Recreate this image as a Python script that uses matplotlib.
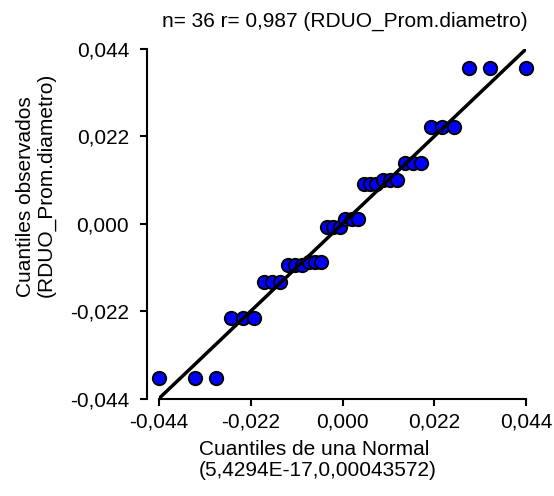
import matplotlib
matplotlib.use('Agg')
import matplotlib.pyplot as plt
from matplotlib.ticker import FuncFormatter

plt.rcParams['font.family'] = ['Liberation Sans', 'DejaVu Sans']

# normal quantiles (x) and sorted observed residuals (y)
normal_q = [-0.0441, -0.0354, -0.0304, -0.0268, -0.0238, -0.0212,
            -0.0189, -0.0168, -0.0149, -0.0131, -0.0114, -0.0097,
            -0.0081, -0.0066, -0.0051, -0.0036, -0.0022, -0.0007,
            0.0007, 0.0022, 0.0036, 0.0051, 0.0066, 0.0081,
            0.0097, 0.0114, 0.0131, 0.0149, 0.0168, 0.0189,
            0.0212, 0.0238, 0.0268, 0.0304, 0.0354, 0.0441]
observed_q = [-0.0388, -0.0388, -0.0388, -0.0238, -0.0238, -0.0238,
              -0.0147, -0.0147, -0.0147, -0.0105, -0.0105, -0.0105,
              -0.0096, -0.0096, -0.0096, -0.0008, -0.0008, -0.0008,
              0.0013, 0.0013, 0.0013, 0.0101, 0.0101, 0.0101,
              0.0111, 0.0111, 0.0111, 0.0152, 0.0152, 0.0152,
              0.0244, 0.0244, 0.0244, 0.0392, 0.0392, 0.0392]
tick_vals = [-0.044, -0.022, 0.0, 0.022, 0.044]

title = "n= 36 r= 0,987 (RDUO_Prom.diametro)"
xlabel = "Cuantiles de una Normal\n(5,4294E-17,0,00043572)"
ylabel = "Cuantiles observados\n(RDUO_Prom.diametro)"

fs = 15

fig = plt.figure(figsize=(5.54, 4.96), dpi=100)
ax = fig.add_axes([159/554, 1 - 398.5/496, 367/554, 349.5/496])

ax.scatter(normal_q, observed_q, s=92, c='#0000ff', edgecolors='black',
           linewidths=1.4, zorder=3, clip_on=False)
ax.axline((0, 0), slope=1, color='black', lw=2.5, zorder=4)

ax.set_xlim(-0.044, 0.044)
ax.set_ylim(-0.044, 0.044)
ax.set_xticks(tick_vals)
ax.set_yticks(tick_vals)
fmt = FuncFormatter(lambda v, p: "{:.3f}".format(v).replace('.', ','))
ax.xaxis.set_major_formatter(fmt)
ax.yaxis.set_major_formatter(fmt)

for s in ['top', 'right']:
    ax.spines[s].set_visible(False)
ax.spines['left'].set_position(('outward', 8.6))
ax.spines['left'].set_linewidth(1.5)
ax.spines['bottom'].set_linewidth(1.5)
ax.tick_params(axis='both', length=5, width=1.5, labelsize=fs)
ax.tick_params(axis='x', pad=5)
ax.tick_params(axis='y', pad=8)

fig.text(345/554, 1 - 27/496, title, ha='center', va='baseline', fontsize=fs)
fig.text(199/554, 1 - 460/496, xlabel, ha='left', va='center',
         multialignment='left', fontsize=fs, linespacing=1.1)
fig.text(36/554, 1 - 185/496, ylabel, ha='center', va='center', rotation=90,
         multialignment='left', fontsize=fs, linespacing=1.1)

fig.savefig('out.png', dpi=100)
